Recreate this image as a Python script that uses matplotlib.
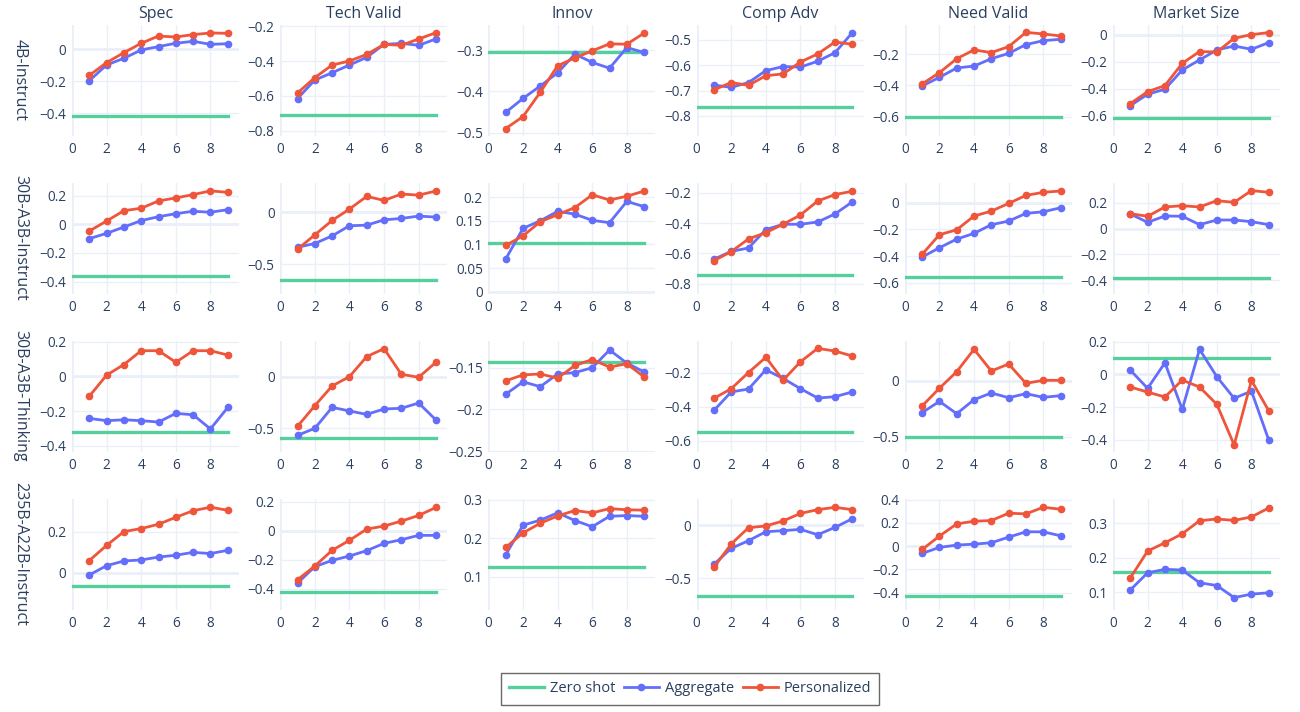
import numpy as np
import matplotlib
matplotlib.use("Agg")
import matplotlib.pyplot as plt
from matplotlib.ticker import MultipleLocator, FuncFormatter
from matplotlib.lines import Line2D

plt.rcParams["font.family"] = ["Open Sans", "DejaVu Sans"]

# ---- data ----
metrics = ["Spec", "Tech Valid", "Innov", "Comp Adv", "Need Valid", "Market Size"]
models = ["4B-Instruct", "30B-A3B-Instruct", "30B-A3B-Thinking", "235B-A22B-Instruct"]
steps = list(range(1, 10))

zero_shot = [
    [-0.417, -0.709, -0.304, -0.764, -0.600, -0.617],
    [-0.360, -0.651, 0.1035, -0.743, -0.557, -0.380],
    [-0.318, -0.597, -0.1433, -0.545, -0.506, 0.098],
    [-0.065, -0.423, 0.125, -0.666, -0.426, 0.158],
]

agg_4b = [
    [-0.196, -0.098, -0.056, -0.004, 0.017, 0.038, 0.050, 0.031, 0.035],
    [-0.615, -0.509, -0.467, -0.423, -0.379, -0.305, -0.299, -0.310, -0.274],
    [-0.451, -0.417, -0.387, -0.355, -0.310, -0.330, -0.344, -0.294, -0.306],
    [-0.678, -0.687, -0.668, -0.621, -0.605, -0.607, -0.584, -0.550, -0.471],
    [-0.404, -0.349, -0.289, -0.277, -0.230, -0.196, -0.140, -0.115, -0.106],
    [-0.524, -0.440, -0.403, -0.261, -0.187, -0.113, -0.084, -0.108, -0.059],
]
pers_4b = [
    [-0.163, -0.083, -0.021, 0.038, 0.083, 0.077, 0.092, 0.102, 0.100],
    [-0.583, -0.495, -0.423, -0.400, -0.362, -0.305, -0.310, -0.274, -0.238],
    [-0.490, -0.461, -0.402, -0.338, -0.319, -0.302, -0.285, -0.286, -0.259],
    [-0.697, -0.668, -0.679, -0.641, -0.634, -0.587, -0.555, -0.508, -0.517],
    [-0.391, -0.319, -0.230, -0.174, -0.191, -0.153, -0.062, -0.072, -0.085],
    [-0.509, -0.421, -0.376, -0.212, -0.125, -0.128, -0.027, 0.000, 0.015],
]

agg_30b = [
    [-0.100, -0.063, -0.019, 0.026, 0.053, 0.074, 0.091, 0.084, 0.102],
    [-0.337, -0.301, -0.228, -0.131, -0.125, -0.074, -0.061, -0.038, -0.048],
    [0.069, 0.134, 0.150, 0.170, 0.164, 0.151, 0.146, 0.191, 0.180],
    [-0.638, -0.586, -0.564, -0.443, -0.408, -0.408, -0.393, -0.340, -0.261],
    [-0.408, -0.338, -0.273, -0.230, -0.165, -0.138, -0.080, -0.068, -0.038],
    [0.114, 0.049, 0.098, 0.096, 0.031, 0.067, 0.067, 0.054, 0.031],
]
pers_30b = [
    [-0.047, 0.023, 0.095, 0.112, 0.163, 0.184, 0.207, 0.233, 0.223],
    [-0.356, -0.218, -0.080, 0.029, 0.151, 0.112, 0.173, 0.163, 0.202],
    [0.098, 0.118, 0.148, 0.163, 0.178, 0.205, 0.194, 0.202, 0.213],
    [-0.647, -0.588, -0.504, -0.463, -0.408, -0.347, -0.255, -0.213, -0.191],
    [-0.388, -0.240, -0.203, -0.100, -0.063, -0.005, 0.055, 0.078, 0.088],
    [0.116, 0.096, 0.168, 0.178, 0.168, 0.217, 0.204, 0.295, 0.282],
]

agg_30b_think = [
    [-0.242, -0.255, -0.250, -0.255, -0.263, -0.213, -0.221, -0.303, -0.179],
    [-0.568, -0.500, -0.297, -0.332, -0.365, -0.313, -0.306, -0.255, -0.419],
    [-0.1818, -0.1669, -0.1727, -0.1575, -0.1559, -0.1500, -0.1288, -0.1445, -0.1551],
    [-0.421, -0.312, -0.295, -0.182, -0.233, -0.293, -0.348, -0.340, -0.312],
    [-0.286, -0.185, -0.295, -0.170, -0.110, -0.152, -0.116, -0.149, -0.134],
    [0.026, -0.085, 0.071, -0.214, 0.153, -0.014, -0.146, -0.102, -0.401],
]
pers_30b_think = [
    [-0.114, 0.008, 0.069, 0.149, 0.149, 0.082, 0.149, 0.149, 0.124],
    [-0.481, -0.281, -0.090, 0.000, 0.194, 0.271, 0.023, -0.006, 0.139],
    [-0.1657, -0.1586, -0.1575, -0.1625, -0.1473, -0.1402, -0.1492, -0.1453, -0.1610],
    [-0.350, -0.293, -0.198, -0.109, -0.243, -0.135, -0.056, -0.072, -0.101],
    [-0.226, -0.068, 0.080, 0.280, 0.086, 0.149, -0.024, 0.003, 0.003],
    [-0.077, -0.108, -0.138, -0.035, -0.077, -0.183, -0.431, -0.037, -0.222],
]

agg_235b = [
    [-0.011, 0.034, 0.057, 0.062, 0.076, 0.085, 0.099, 0.093, 0.109],
    [-0.360, -0.247, -0.204, -0.174, -0.137, -0.087, -0.062, -0.032, -0.032],
    [0.157, 0.234, 0.247, 0.266, 0.246, 0.230, 0.257, 0.259, 0.257],
    [-0.369, -0.219, -0.147, -0.063, -0.053, -0.041, -0.091, -0.022, 0.059],
    [-0.063, -0.011, 0.009, 0.017, 0.029, 0.077, 0.123, 0.123, 0.089],
    [0.107, 0.157, 0.167, 0.165, 0.128, 0.120, 0.085, 0.095, 0.099],
]
pers_235b = [
    [0.059, 0.133, 0.200, 0.215, 0.236, 0.270, 0.302, 0.319, 0.304],
    [-0.337, -0.243, -0.135, -0.066, 0.011, 0.032, 0.066, 0.105, 0.160],
    [0.176, 0.214, 0.239, 0.258, 0.272, 0.266, 0.277, 0.274, 0.273],
    [-0.397, -0.178, -0.025, -0.009, 0.038, 0.109, 0.144, 0.166, 0.144],
    [-0.029, 0.086, 0.191, 0.214, 0.220, 0.283, 0.277, 0.334, 0.317],
    [0.142, 0.220, 0.244, 0.270, 0.308, 0.313, 0.309, 0.319, 0.345],
]

aggregate = [agg_4b, agg_30b, agg_30b_think, agg_235b]
personalized = [pers_4b, pers_30b, pers_30b_think, pers_235b]

# ---- layout (axis ranges / tick steps per panel) ----
ylims = [
    [(-0.542, 0.152), (-0.829, -0.194), (-0.508, -0.2395), (-0.879, -0.441), (-0.723, -0.015), (-0.748, 0.071)],
    [(-0.486, 0.288), (-0.785, 0.279), (-0.005, 0.230), (-0.866, -0.137), (-0.685, 0.148), (-0.507, 0.354)],
    [(-0.436, 0.205), (-0.729, 0.345), (-0.251, -0.118), (-0.665, -0.0128), (-0.637, 0.354), (-0.474, 0.204)],
    [(-0.182, 0.359), (-0.545, 0.218), (0.0135, 0.302), (-0.797, 0.244), (-0.549, 0.405), (0.049, 0.371)],
]
ysteps = [
    [0.2, 0.2, 0.1, 0.1, 0.2, 0.2],
    [0.2, 0.5, 0.05, 0.2, 0.2, 0.2],
    [0.2, 0.5, 0.05, 0.2, 0.5, 0.2],
    [0.2, 0.2, 0.1, 0.5, 0.2, 0.1],
]

GREEN = "#55d09d"
BLUE = "#636efa"
RED = "#ef553b"
GRID = "#ebf0f8"
TXT = "#2a3f5f"

W, H = 1300, 712
fig = plt.figure(figsize=(W / 100, H / 100), dpi=100)


def fmt(v, pos):
    if abs(v) < 1e-9:
        return "0"
    return f"{round(v, 6):g}".replace("-", "\u2212")


for r in range(4):
    top = 25 + 158 * r
    for c in range(6):
        left = 72 + 208.2 * c
        ax = fig.add_axes([left / W, 1 - (top + 111) / H, 167 / W, 111 / H])
        ax.set_xlim(0, 9.65)
        ax.set_ylim(*ylims[r][c])
        ax.xaxis.set_major_locator(MultipleLocator(2))
        ax.yaxis.set_major_locator(MultipleLocator(ysteps[r][c]))
        ax.yaxis.set_major_formatter(FuncFormatter(fmt))
        ax.grid(color=GRID, lw=1)
        ax.set_axisbelow(True)
        ax.axvline(0, color=GRID, lw=2, zorder=0)
        lo, hi = ylims[r][c]
        if lo < 0 < hi:
            ax.axhline(0, color=GRID, lw=2, zorder=0)
        for s in ax.spines.values():
            s.set_visible(False)
        ax.tick_params(length=0, labelsize=9.8, colors=TXT, pad=4)

        ax.plot([0, steps[-1]], [zero_shot[r][c]] * 2, color=GREEN, lw=2.4)
        ax.plot(steps, aggregate[r][c], color=BLUE, lw=2, marker="o", ms=4.5)
        ax.plot(steps, personalized[r][c], color=RED, lw=2, marker="o", ms=4.5)

        if r == 0:
            ax.set_title(metrics[c], fontsize=11.5, color=TXT, pad=5)
        if c == 0:
            fig.text(20 / W, 1 - (top + 55) / H, models[r], rotation=-90,
                     ha="center", va="center", fontsize=11.5, color=TXT)

handles = [
    Line2D([], [], color=GREEN, lw=2.4),
    Line2D([], [], color=BLUE, lw=2, marker="o", ms=4.5),
    Line2D([], [], color=RED, lw=2, marker="o", ms=4.5),
]
leg = fig.legend(handles, ["Zero shot", "Aggregate", "Personalized"],
                 loc="center", bbox_to_anchor=(690 / W, 1 - 689 / H), ncol=3,
                 frameon=True, fancybox=False, edgecolor="#444444",
                 fontsize=10.5, handlelength=2.4, columnspacing=0.6,
                 handletextpad=0.4, borderpad=0.55, borderaxespad=0)
leg.get_frame().set_linewidth(1)
for t in leg.get_texts():
    t.set_color(TXT)

fig.savefig("out.png", dpi=100)
